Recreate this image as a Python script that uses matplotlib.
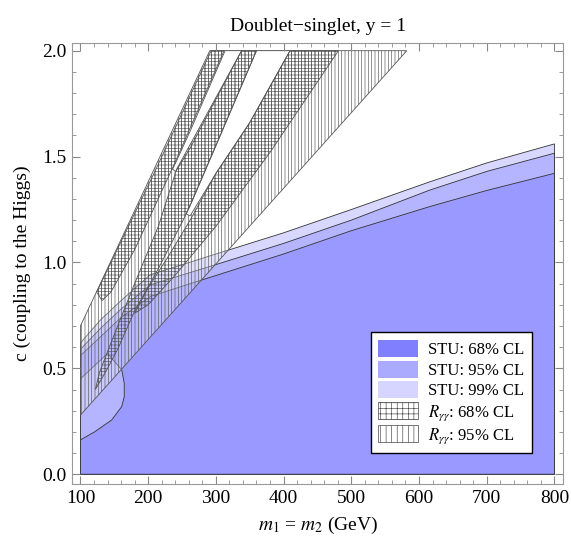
import numpy as np
import matplotlib
matplotlib.use("Agg")
import matplotlib.pyplot as plt
from matplotlib.patches import Polygon, Patch
from matplotlib.ticker import MultipleLocator, FormatStrFormatter

plt.rcParams['font.family'] = ['Liberation Serif', 'DejaVu Serif']
plt.rcParams['mathtext.fontset'] = 'stix'
plt.rcParams['hatch.linewidth'] = 0.45

# ---- STU allowed regions (upper edges, mass in GeV vs coupling c) ----
stu99_m = [100, 130, 160, 203, 300, 400, 500, 616, 700, 800]
stu99_c = [0.62, 0.73, 0.82, 0.942, 1.04, 1.14, 1.25, 1.381, 1.47, 1.56]
stu95_m = [100, 130, 160, 203, 300, 400, 500, 616, 700, 800]
stu95_c = [0.59, 0.69, 0.78, 0.894, 0.99, 1.09, 1.20, 1.342, 1.43, 1.516]
stu68_m = [100, 130, 160, 203, 271, 400, 500, 616, 700, 800]
stu68_c = [0.56, 0.65, 0.74, 0.839, 0.909, 1.04, 1.15, 1.264, 1.34, 1.421]
# lower-left cut-out of the 68% region
stu68_notch_m = [100, 140, 161, 164.7, 164.7, 160.9, 146.1, 121.4, 100]
stu68_notch_c = [0.45, 0.57, 0.493, 0.43, 0.366, 0.319, 0.256, 0.201, 0.162]

# ---- R_gamma-gamma 95% envelope and the white gaps inside it ----
r95_m = [100, 582, 291, 100]
r95_c = [0.279, 2.0, 2.0, 0.70]
gap1_m = [313.6, 262, 242, 236, 241, 262, 300, 338]
gap1_c = [2.0, 1.62, 1.48, 1.44, 1.43, 1.54, 1.77, 2.0]
gap2_m = [360, 300, 265, 256, 262, 300, 350, 409.5]
gap2_c = [2.0, 1.55, 1.29, 1.23, 1.22, 1.42, 1.66, 2.0]

# ---- R_gamma-gamma 68% fingers ----
r68a_m = [132, 124, 210, 293, 312, 238, 180, 145]
r68a_c = [0.82, 0.86, 1.43, 2.0, 2.0, 1.46, 1.06, 0.86]
r68b_m = [338, 360, 258, 215, 180, 155, 135, 122, 128, 150, 180, 215, 242, 290]
r68b_c = [2.0, 2.0, 1.24, 0.97, 0.77, 0.59, 0.47, 0.40, 0.48, 0.66, 0.90, 1.17, 1.44, 1.72]
r68c_m = [409.5, 481, 380, 300, 240, 200, 180, 200, 230, 262, 300, 350]
r68c_c = [2.0, 2.0, 1.52, 1.17, 0.94, 0.80, 0.76, 0.88, 1.03, 1.20, 1.42, 1.66]

col68, col95, col99 = '#9999ff', '#b4b4ff', '#d7d7ff'
leg68, leg95, leg99 = '#8080ff', '#aaaaff', '#d5d5ff'

fig = plt.figure(figsize=(5.71, 5.41), dpi=100)
ax = fig.add_axes([0.1266, 0.1054, 0.8599, 0.8146])

def region(m, c, **kw):
    p = Polygon(np.column_stack([m, c]), closed=True, **kw)
    ax.add_patch(p)
    return p

# STU: fill under each upper edge
region([100] + stu99_m + [800], [0] + stu99_c + [0], facecolor=col99, edgecolor='#333333', lw=0.6)
region([100] + stu95_m + [800], [0] + stu95_c + [0], facecolor=col95, edgecolor='#333333', lw=0.6)
m68 = [100, 800] + stu68_m[::-1] + stu68_notch_m
c68 = [0, 0] + stu68_c[::-1] + stu68_notch_c
region(m68, c68, facecolor=col68, edgecolor='#333333', lw=0.6)

# R_gamma-gamma
region(r95_m, r95_c, facecolor=(1, 1, 1, 0.3), edgecolor='#555555', lw=0.6, hatch='|||||')
region(gap1_m, gap1_c, facecolor='white', edgecolor='#555555', lw=0.6)
region(gap2_m, gap2_c, facecolor='white', edgecolor='#555555', lw=0.6)
for m, c in [(r68a_m, r68a_c), (r68b_m, r68b_c), (r68c_m, r68c_c)]:
    region(m, c, facecolor='none', edgecolor='#555555', lw=0.6, hatch='+++++')

ax.set_xlim(88, 813)
ax.set_ylim(-0.046, 2.035)
ax.xaxis.set_major_locator(MultipleLocator(100))
ax.xaxis.set_minor_locator(MultipleLocator(20))
ax.yaxis.set_major_locator(MultipleLocator(0.5))
ax.yaxis.set_minor_locator(MultipleLocator(0.1))
ax.yaxis.set_major_formatter(FormatStrFormatter('%.1f'))
ax.tick_params(which='both', direction='in', top=True, right=True, color='#888888',
               labelsize=14, pad=4)
ax.tick_params(which='major', length=6, width=0.8)
ax.tick_params(which='minor', length=3, width=0.6)
for s in ax.spines.values():
    s.set_color('#999999')
    s.set_linewidth(0.8)

ax.set_title('Doublet\u2212singlet, y = 1', fontsize=14, pad=9)
ax.set_xlabel('$m_1$ = $m_2$ (GeV)', fontsize=14, labelpad=6)
ax.set_ylabel('c (coupling to the Higgs)', fontsize=14, labelpad=8)

handles = [Patch(facecolor=leg68, edgecolor='none'),
           Patch(facecolor=leg95, edgecolor='none'),
           Patch(facecolor=leg99, edgecolor='none'),
           Patch(facecolor='white', edgecolor='#444444', hatch='+++', lw=0.5),
           Patch(facecolor='white', edgecolor='#444444', hatch='|||', lw=0.5)]
labels = ['STU: 68% CL', 'STU: 95% CL', 'STU: 99% CL',
          r'$R_{\gamma\gamma}$: 68% CL', r'$R_{\gamma\gamma}$: 95% CL']
leg = ax.legend(handles, labels, loc='lower right', bbox_to_anchor=(0.936, 0.07),
                borderaxespad=0, fontsize=12, fancybox=False, framealpha=1,
                edgecolor='black', handlelength=2.4, handleheight=1.2,
                labelspacing=0.15, handletextpad=0.6, borderpad=0.45)
leg.get_frame().set_linewidth(1.0)

fig.savefig('out.png', dpi=100)
